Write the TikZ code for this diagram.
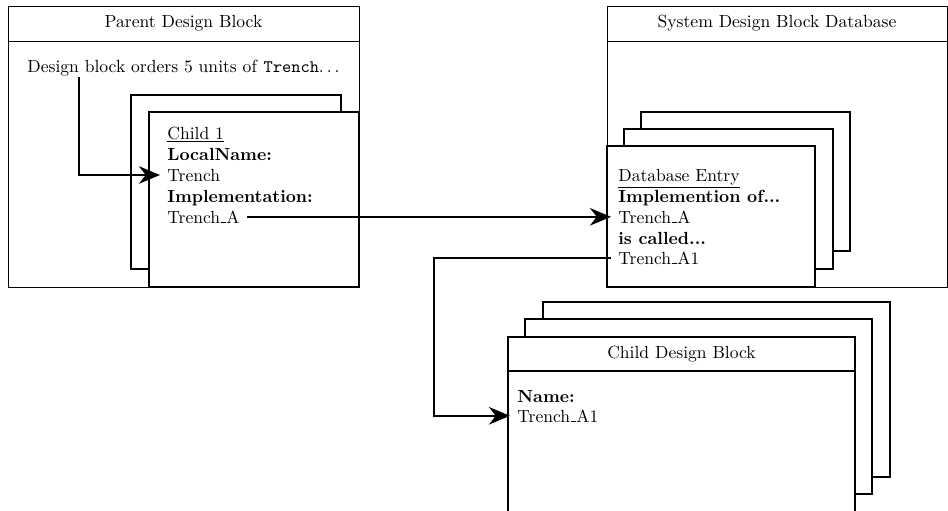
\documentclass[tikz,border=0pt]{standalone}
\usetikzlibrary{arrows.meta}
\newcommand\lowbar{\leavevmode\kern.06em\vbox{\hrule width.3em}}
\newcommand\dotsrm{.\kern1.67pt.\kern1.67pt.\kern1.67pt}
\begin{document}
\begin{tikzpicture}[x=0.02cm,y=-0.02cm,
    frame/.style={draw,line width=0.5pt},
    backcard/.style={draw,fill=white,line width=1.2pt},
    frontcard/.style={draw,fill=white,line width=0.8pt},
    entry/.style={anchor=base west,inner xsep=4pt,inner ysep=0pt},
    link/.style={line width=1pt,-{Stealth[length=12pt,width=10pt]}}]
  \useasboundingbox (0,0) rectangle (948,511);
  \clip (0,0) rectangle (948,511);
  % parent block
  \draw[frame] (8,6) rectangle (359,287);
  \draw[frame] (8,41) -- (359,41);
  \node (ptitle) at (183.5,23.5) {Parent Design Block};
  \node[entry] (orders) at (20,72) {Design block orders 5 units of \texttt{Trench}\dotsrm};
  \draw[backcard] (131,95) rectangle (341,269);
  \draw[frontcard] (149,112) rectangle (359,287);
  \node[entry] (child) at (160,139) {\underline{Child 1}};
  \node[entry] (lname) at (160,160) {\textbf{LocalName:}};
  \node[entry] (trench) at (160,181) {Trench};
  \node[entry] (impl) at (160,202) {\textbf{Implementation:}};
  \node[entry] (impla) at (160,223) {Trench\lowbar A};
  % database
  \draw[frame] (607,6) rectangle (947,287);
  \draw[frame] (607,41) -- (947,41);
  \node (dtitle) at (777,23.5) {System Design Block Database};
  \draw[backcard] (641,112) rectangle (850,251);
  \draw[backcard] (624,129) rectangle (833,269);
  \draw[frontcard] (607,146) rectangle (815,287);
  \node[entry] (entry) at (611,181) {\underline{Database Entry}};
  \node[entry] (implof) at (611,202) {\textbf{Implemention of...}};
  \node[entry] (dba) at (611,223) {Trench\lowbar A};
  \node[entry] (called) at (611,244) {\textbf{is called...}};
  \node[entry] (dba1) at (611,264) {Trench\lowbar A1};
  % child block
  \draw[backcard] (543,302) rectangle (890,477);
  \draw[backcard] (525,319) rectangle (872,494);
  \draw[frontcard] (508,337) rectangle (855,530);
  \draw[frontcard] (508,371) -- (855,371);
  \node (ctitle) at (681.5,354) {Child Design Block};
  \node[entry] (name) at (510,402) {\textbf{Name:}};
  \node[entry] (ca1) at (510,422) {Trench\lowbar A1};
  % links
  \coordinate (dstart) at (79,77);
  \coordinate (bend) at (434,0);
  \draw[link] (dstart) |- (trench.west);
  \draw[link] (impla.east) -- (dba.west);
  \draw[link] (dba1.west) -- (dba1.west -| bend) |- (ca1.west);
\end{tikzpicture}
\end{document}
